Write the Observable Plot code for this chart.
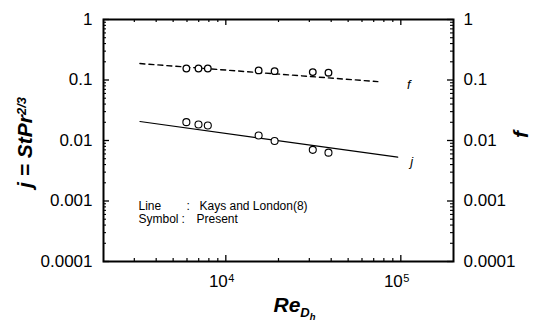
<!DOCTYPE html>
<html><head><meta charset="utf-8">
<script src="https://cdn.jsdelivr.net/npm/d3@7"></script>
<script src="https://cdn.jsdelivr.net/npm/@observablehq/plot@0.6"></script>
<style>body{margin:0;background:#fff}</style>
</head><body><div id="chart"></div>
<script>
// experimental points (Present)
const reExp = [5950, 6980, 7890, 15400, 19000, 31400, 38600];
const fExp  = [0.155, 0.155, 0.155, 0.144, 0.140, 0.135, 0.132];
const jExp  = [0.0201, 0.0184, 0.0177, 0.0121, 0.0098, 0.0070, 0.0063];
// Kays and London lines
const reLineF = [3230, 73900];
const fLine   = [0.187, 0.094];
const reLineJ = [3230, 96000];
const jLine   = [0.0206, 0.0053];
// ticks
const yTicks = [1, 0.1, 0.01, 0.001, 0.0001];
const yTickLabels = ["1", "0.1", "0.01", "0.001", "0.0001"];
const xMajor = [10000, 100000];
const xMajorBase = ["10", "10"];
const xMajorExp = ["4", "5"];
const xMinor = [3000, 4000, 5000, 6000, 7000, 8000, 9000, 20000, 30000, 40000, 50000, 60000, 70000, 80000, 90000];
const yMantissas = [2, 3, 4, 5, 6, 7, 8, 9];
const yDecades = [0.0001, 0.001, 0.01, 0.1];
const yMinor = yDecades.flatMap(d => yMantissas.map(m => m * d));
// legend
const legendKeys = ["Line", "Symbol"];
const legendValues = ["Kays and London(8)", "Present"];
const lineLabels = ["f", "j"];

const fPts = reExp.map((re, i) => ({re, v: fExp[i]}));
const jPts = reExp.map((re, i) => ({re, v: jExp[i]}));
const fLinePts = reLineF.map((re, i) => ({re, v: fLine[i]}));
const jLinePts = reLineJ.map((re, i) => ({re, v: jLine[i]}));

const W = 539, H = 330, mL = 103, mR = 86, mT = 19, mB = 69;
const iW = W - mL - mR, iH = H - mT - mB;

const chart = Plot.plot({
  width: W, height: H,
  marginLeft: mL, marginRight: mR, marginTop: mT, marginBottom: mB,
  style: {fontFamily: "'Liberation Sans', Arial, sans-serif", fontSize: "17px", background: "#fff", color: "#000", overflow: "visible"},
  x: {type: "log", domain: [2000, 200000], axis: null},
  y: {type: "log", domain: [0.0001, 1], axis: null},
  marks: [
    // ticks (inward)
    Plot.ruleX(xMajor, {x: d => d, insetTop: iH - 6, strokeWidth: 1.3}),
    Plot.ruleX(xMinor, {x: d => d, insetTop: iH - 3, strokeWidth: 1.2}),
    Plot.ruleX(xMajor, {x: d => d, insetBottom: iH - 6, strokeWidth: 1.3}),
    Plot.ruleX(xMinor, {x: d => d, insetBottom: iH - 3, strokeWidth: 1.2}),
    Plot.ruleY(yTicks, {y: d => d, insetRight: iW - 6, strokeWidth: 1.3}),
    Plot.ruleY(yMinor, {y: d => d, insetRight: iW - 3, strokeWidth: 1.1}),
    Plot.ruleY(yTicks, {y: d => d, insetLeft: iW - 6, strokeWidth: 1.3}),
    Plot.ruleY(yMinor, {y: d => d, insetLeft: iW - 3, strokeWidth: 1.1}),
    Plot.frame({stroke: "black", strokeWidth: 2}),
    // tick labels
    Plot.text(yTicks, {y: d => d, text: (d, i) => yTickLabels[i], frameAnchor: "left", dx: -11, textAnchor: "end"}),
    Plot.text(yTicks, {y: d => d, text: (d, i) => yTickLabels[i], frameAnchor: "right", dx: 10, textAnchor: "start"}),
    Plot.text(xMajor, {x: d => d, text: (d, i) => xMajorBase[i], frameAnchor: "bottom", textAnchor: "end", dx: 2, dy: 25}),
    Plot.text(xMajor, {x: d => d, text: (d, i) => xMajorExp[i], frameAnchor: "bottom", textAnchor: "start", dx: 2.5, dy: 20, fontSize: 11}),
    // lines
    Plot.line(fLinePts, {x: "re", y: "v", stroke: "black", strokeWidth: 1.4, strokeDasharray: "5,4"}),
    Plot.line(jLinePts, {x: "re", y: "v", stroke: "black", strokeWidth: 1.2}),
    // points
    Plot.dot(fPts, {x: "re", y: "v", r: 3.3, stroke: "black", fill: "white", strokeWidth: 1.3}),
    Plot.dot(jPts, {x: "re", y: "v", r: 3.5, stroke: "black", fill: "white", strokeWidth: 1.1}),
    // line labels
    Plot.text([fLinePts[fLinePts.length - 1]], {x: "re", y: "v", text: () => lineLabels[0], dx: 31, dy: 3, fontStyle: "italic", fontSize: 13}),
    Plot.text([jLinePts[jLinePts.length - 1]], {x: "re", y: "v", text: () => lineLabels[1], dx: 14, dy: 5, fontStyle: "italic", fontSize: 13}),
    // legend
    Plot.text([legendKeys[0]], {text: d => d, frameAnchor: "top-left", dx: 35, dy: 182, textAnchor: "start", fontSize: 12}),
    Plot.text([":"], {text: d => d, frameAnchor: "top-left", dx: 83, dy: 182, textAnchor: "start", fontSize: 12}),
    Plot.text([legendValues[0]], {text: d => d, frameAnchor: "top-left", dx: 96, dy: 182, textAnchor: "start", fontSize: 12}),
    Plot.text([legendKeys[1]], {text: d => d, frameAnchor: "top-left", dx: 35, dy: 195, textAnchor: "start", fontSize: 12}),
    Plot.text([":"], {text: d => d, frameAnchor: "top-left", dx: 78, dy: 195, textAnchor: "start", fontSize: 12}),
    Plot.text([legendValues[1]], {text: d => d, frameAnchor: "top-left", dx: 93, dy: 195, textAnchor: "start", fontSize: 12}),
    // axis titles
    Plot.text(["j = StPr"], {text: d => d, frameAnchor: "left", dx: -78, dy: 2, rotate: -90, fontWeight: "bold", fontStyle: "italic", fontSize: 21, textAnchor: "middle"}),
    Plot.text(["f"], {text: d => d, frameAnchor: "right", dx: 68, dy: -6, rotate: -90, fontWeight: "bold", fontStyle: "italic", fontSize: 21, textAnchor: "middle"}),
    Plot.text(["Re"], {text: d => d, frameAnchor: "bottom", dx: -5, dy: 50, fontWeight: "bold", fontStyle: "italic", fontSize: 21, textAnchor: "start"})
  ]
});

d3.select(chart).selectAll("text").each(function() {
  const t = d3.select(this);
  if (this.textContent === "j = StPr") {
    t.append("tspan").attr("dy", "-0.45em").attr("font-size", "0.62em").text("2/3");
  } else if (this.textContent === "Re") {
    t.append("tspan").attr("dy", "0.4em").attr("font-size", "0.62em").text("D");
    t.append("tspan").attr("dy", "0.35em").attr("font-size", "0.45em").text("h");
  }
});

document.getElementById("chart").appendChild(chart);
</script>
</body></html>
